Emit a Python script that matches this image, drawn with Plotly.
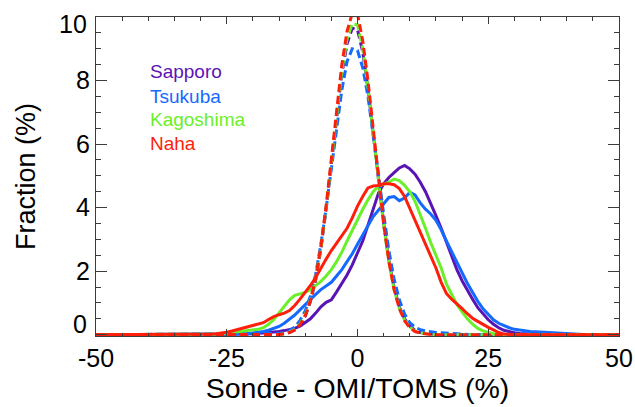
import plotly.graph_objects as go

# ---------------- data ----------------
stations = ["Sapporo", "Tsukuba", "Kagoshima", "Naha"]
colors = ["#5a14b4", "#1469ff", "#6af028", "#ff1e0a"]

# bin centres (%)
solid_bins = [-50] + list(range(-30, 45)) + [50]
dash_bins = [-50] + list(range(-16, 23)) + [50]

# solid curves, bins -30 .. 44
sapporo_solid = [0, 0, 0, 0, 0, 0, 0, 0,
                 0.01, 0.02, 0.03, 0.04, 0.05, 0.06, 0.08, 0.1, 0.13, 0.16, 0.2, 0.27, 0.38,
                 0.5, 0.68, 0.88, 1.02, 1.1, 1.35, 1.6, 1.88, 2.2,
                 2.55, 2.95, 3.45, 3.95, 4.45, 4.75, 4.95, 5.1, 5.25, 5.33,
                 5.22, 5.05, 4.8, 4.5, 4.15, 3.75, 3.35, 2.9, 2.45, 2.05,
                 1.7, 1.4, 1.12, 0.85, 0.65, 0.47, 0.33, 0.22, 0.14, 0.09,
                 0.06, 0.04, 0.03, 0.02, 0.01, 0.01, 0.01, 0.01, 0.01,
                 0, 0, 0, 0, 0, 0]
tsukuba_solid = [0, 0, 0, 0, 0,
                 0.01, 0.01, 0.02, 0.02, 0.03, 0.05, 0.07, 0.1, 0.14, 0.19,
                 0.26, 0.36, 0.48, 0.62, 0.78, 0.95, 1.1, 1.27, 1.42, 1.54,
                 1.65, 1.85, 2.05, 2.3, 2.55, 2.85, 3.15, 3.45, 3.72, 3.92,
                 4.12, 4.32, 4.35, 4.22, 4.3, 4.48, 4.4, 4.15, 3.95, 3.8,
                 3.6, 3.3, 2.95, 2.6, 2.25, 1.95, 1.62, 1.33, 1.05, 0.82,
                 0.63, 0.47, 0.36, 0.28, 0.22, 0.17, 0.14, 0.12, 0.1, 0.09,
                 0.08, 0.07, 0.06, 0.05, 0.05, 0.04, 0.03, 0.02, 0.01, 0]
kagoshima_solid = [0, 0, 0.01, 0.02, 0.03, 0.05, 0.06, 0.08, 0.1, 0.12,
                   0.14, 0.17, 0.22, 0.33, 0.48, 0.68, 0.88, 1.1, 1.24, 1.28,
                   1.33, 1.42, 1.55, 1.68, 1.85, 2.05, 2.3, 2.6, 2.95, 3.3,
                   3.65, 3.95, 4.25, 4.5, 4.68, 4.75, 4.8, 4.9, 4.85, 4.7,
                   4.5, 4.2, 3.8, 3.35, 2.9, 2.5, 2.1, 1.6, 1.25, 0.95,
                   0.72, 0.5, 0.33, 0.2, 0.12, 0.07, 0.03, 0.01,
                   0, 0, 0, 0, 0, 0, 0, 0, 0, 0, 0, 0, 0, 0, 0, 0, 0]
naha_solid = [0, 0.01, 0.02, 0.03, 0.05, 0.08, 0.12, 0.16, 0.21, 0.25,
              0.28, 0.32, 0.38, 0.48, 0.57, 0.63, 0.68, 0.76, 0.92, 1.12,
              1.32, 1.55, 1.8, 2.1, 2.38, 2.65, 2.88, 3.08, 3.35, 3.68,
              4.05, 4.35, 4.62, 4.68, 4.7, 4.75, 4.75, 4.72, 4.6, 4.35,
              3.98, 3.6, 3.2, 2.85, 2.45, 2.1, 1.65, 1.3, 1.12, 0.98,
              0.82, 0.66, 0.52, 0.42, 0.32, 0.23, 0.15, 0.07, 0.02,
              0, 0, 0, 0, 0, 0, 0, 0, 0, 0, 0, 0, 0, 0, 0, 0]

# dashed curves, bins -16 .. 22
sapporo_dash = [0, 0.01, 0.03, 0.07, 0.15, 0.3, 0.58, 1.04, 1.72, 2.7,
                3.95, 5.4, 6.9, 8.2, 9.15, 9.65, 9.6, 8.9, 7.75, 6.35,
                4.85, 3.5, 2.35, 1.48, 0.88, 0.5, 0.27, 0.14, 0.07, 0.04,
                0.02, 0.01, 0, 0, 0, 0, 0, 0, 0]
tsukuba_dash = [0.02, 0.04, 0.07, 0.13, 0.24, 0.45, 0.75, 1.22, 1.9, 2.85,
                3.98, 5.25, 6.55, 7.7, 8.6, 9.0, 8.95, 8.4, 7.5, 6.35,
                5.05, 3.8, 2.65, 1.75, 1.1, 0.65, 0.38, 0.24, 0.16, 0.12,
                0.09, 0.07, 0.06, 0.05, 0.04, 0.03, 0.02, 0.01, 0]
kagoshima_dash = [0, 0.01, 0.03, 0.08, 0.17, 0.34, 0.63, 1.1, 1.78, 2.75,
                  4.0, 5.45, 6.95, 8.3, 9.3, 9.8, 9.75, 9.0, 7.8, 6.35,
                  4.85, 3.45, 2.3, 1.42, 0.83, 0.46, 0.24, 0.12, 0.06, 0.03,
                  0.01, 0, 0, 0, 0, 0, 0, 0, 0]
naha_dash = [0, 0.01, 0.03, 0.07, 0.15, 0.31, 0.6, 1.08, 1.78, 2.78,
             4.05, 5.55, 7.1, 8.5, 9.55, 10.12, 10.1, 9.25, 8.0, 6.5,
             4.9, 3.5, 2.3, 1.42, 0.82, 0.44, 0.22, 0.1, 0.05, 0.02,
             0.01, 0, 0, 0, 0, 0, 0, 0, 0]

solid_series = [sapporo_solid, tsukuba_solid, kagoshima_solid, naha_solid]
dash_series = [sapporo_dash, tsukuba_dash, kagoshima_dash, naha_dash]

x_ticks = [-50, -25, 0, 25, 50]
y_ticks = [2, 4, 6, 8]
y_end_ticks = [0, 10]

# ---------------- figure ----------------
FONT = "Liberation Sans, Arial, Helvetica, sans-serif"
AX = "#3c3c3c"
fig = go.Figure()

for name, col, s, d in zip(stations, colors, solid_series, dash_series):
    fig.add_trace(go.Scatter(x=solid_bins, y=[0] + s + [0], mode="lines",
                             line=dict(color=col, width=3), name=name,
                             showlegend=False))
    fig.add_trace(go.Scatter(x=dash_bins, y=[0] + d + [0], mode="lines",
                             line=dict(color=col, width=3, dash="8px,4px"),
                             name=name + " (dash)", showlegend=False))

# legend as coloured text
legend_y = [8.28, 7.49, 6.77, 6.02]
for name, col, yy in zip(stations, colors, legend_y):
    fig.add_annotation(x=-40.1, y=yy, xref="x", yref="y", text=name,
                       showarrow=False, xanchor="left", yanchor="middle",
                       font=dict(family=FONT, size=19, color=col))

# end labels of y axis (drawn inside like IDL)
for v, shift in zip(y_end_ticks, [11, -7]):
    fig.add_annotation(x=0, y=v, xref="paper", yref="y", text=str(v),
                       showarrow=False, xanchor="right", yanchor="middle",
                       xshift=-7, yshift=shift,
                       font=dict(family=FONT, size=25, color="black"))

fig.update_xaxes(range=[-50, 50], tickvals=x_ticks, ticktext=[str(v) for v in x_ticks],
                 ticks="inside", ticklen=7, tickwidth=1, tickcolor=AX,
                 minor=dict(dtick=5, ticks="inside", ticklen=3.5, tickcolor=AX, tickwidth=1),
                 showline=True, linecolor=AX, linewidth=1, mirror="allticks",
                 showgrid=False, zeroline=False, automargin=False,
                 tickfont=dict(family=FONT, size=25, color="black"),
                 title=dict(text="Sonde - OMI/TOMS (%)", standoff=1,
                            font=dict(family=FONT, size=28.5, color="black")))
fig.update_yaxes(range=[-0.04, 10.0], tickvals=y_ticks + y_end_ticks,
                 ticktext=[str(v) for v in y_ticks] + ["", ""],
                 ticks="inside", ticklen=11, tickwidth=1, tickcolor=AX,
                 minor=dict(dtick=0.5, ticks="inside", ticklen=5, tickcolor=AX, tickwidth=1),
                 showline=True, linecolor=AX, linewidth=1, mirror="allticks",
                 showgrid=False, zeroline=False, automargin=False,
                 tickfont=dict(family=FONT, size=25, color="black"),
                 title=dict(text="Fraction (%)", standoff=32,
                            font=dict(family=FONT, size=27, color="black")))

fig.update_layout(width=635, height=407, plot_bgcolor="white", paper_bgcolor="white",
                  margin=dict(l=96, r=16, t=17, b=71), showlegend=False)

fig.write_html("out.html", config={"displayModeBar": False},
               post_script="document.body.style.margin='0';document.body.style.padding='0';")
